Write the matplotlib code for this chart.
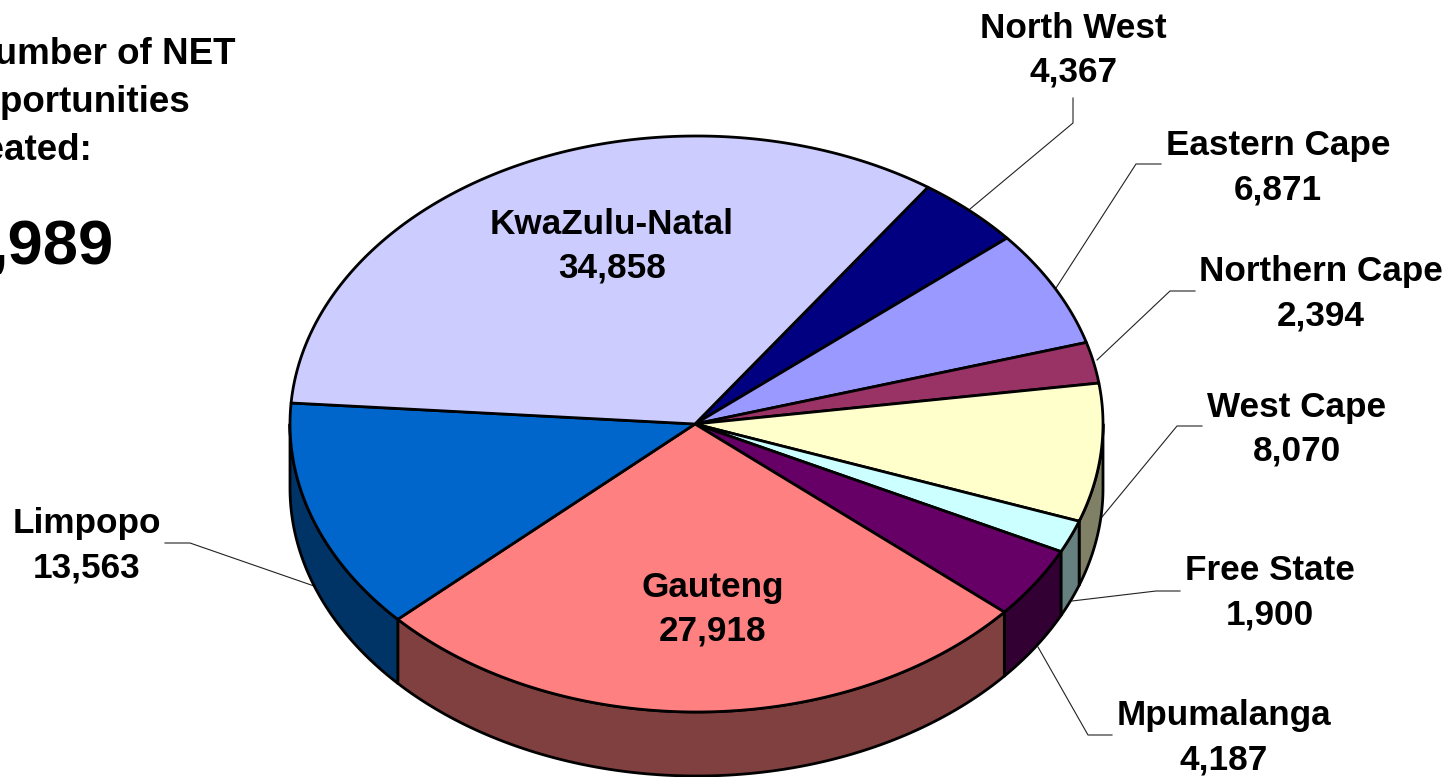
import numpy as np
import matplotlib
matplotlib.use("Agg")
import matplotlib.pyplot as plt
from matplotlib.patches import Polygon

provinces = ["North West", "Eastern Cape", "Northern Cape", "West Cape", "Free State",
             "Mpumalanga", "Gauteng", "Limpopo", "KwaZulu-Natal"]
jobs = [4367, 6871, 2394, 8070, 1900, 4187, 27918, 13563, 34858]
top_colors = ["#000080", "#9999FF", "#993366", "#FFFFCC", "#CCFFFF",
              "#660066", "#FF8080", "#0066CC", "#CCCCFF"]
side_colors = ["#000040", "#4C4C80", "#4C1933", "#808066", "#668080",
               "#330033", "#804040", "#003366", "#666680"]

# label centres, in pixels
label_x = [1073, 1278, 1321, 1297, 1270, 1224, 713, 87, 612]
label_y = [47, 165, 291, 426, 590, 735, 606, 543, 243]

# leader lines, in pixels (None = label sits on the slice)
leaders = [
    ([970, 1073, 1073], [209, 123, 98]),
    ([1056, 1136, 1161], [288, 164, 164]),
    ([1097, 1170, 1195], [360, 291, 291]),
    ([1102, 1177, 1202], [517, 426, 426]),
    ([1072, 1156, 1180], [601, 591, 591]),
    ([1038, 1088, 1112], [647, 735, 735]),
    None,
    ([314, 190, 165], [586, 543, 543]),
    None,
]

cx, cy = 696.5, 424
rx, ry = 406.5, 288
depth = 64
start = 34.7

plt.rcParams["font.family"] = ["Liberation Sans", "DejaVu Sans"]

fig = plt.figure(figsize=(14.51, 7.77), dpi=100)
ax = fig.add_axes([0, 0, 1, 1])
ax.set_xlim(0, 1451)
ax.set_ylim(777, 0)
ax.axis("off")


def arc(a0, a1, drop=0):
    a = np.radians(np.linspace(a0, a1, 200))
    return np.column_stack([cx + rx * np.sin(a), cy + drop - ry * np.cos(a)])


edges = start + np.concatenate([[0], np.cumsum(jobs)]) / sum(jobs) * 360

# side wall first, only the front half shows
for i in range(len(jobs)):
    a0 = max(edges[i], 90)
    a1 = min(edges[i + 1], 270)
    if a0 >= a1:
        continue
    pts = np.vstack([arc(a0, a1), arc(a0, a1, depth)[::-1]])
    ax.add_patch(Polygon(pts, closed=True, facecolor=side_colors[i], edgecolor="black",
                         linewidth=2.0, joinstyle="round", zorder=2))

for i in range(len(jobs)):
    pts = np.vstack([[cx - 1.5, cy], arc(edges[i], edges[i + 1])])
    ax.add_patch(Polygon(pts, closed=True, facecolor=top_colors[i], edgecolor="black",
                         linewidth=2.0, joinstyle="round", zorder=3))

for line in leaders:
    if line is not None:
        ax.plot(line[0], line[1], color="#222222", linewidth=0.8, zorder=1)

for name, v, x, y in zip(provinces, jobs, label_x, label_y):
    ax.text(x, y - 19, name, ha="center", va="center", fontsize=25.3, fontweight="bold", zorder=5)
    ax.text(x, y + 25, f"{v:,}", ha="center", va="center", fontsize=25.3, fontweight="bold", zorder=5)

# headline runs off the left edge in the original
ax.text(235, 55, "Number of NET", ha="right", va="center", fontsize=26.5, fontweight="bold")
ax.text(190, 103, "opportunities", ha="right", va="center", fontsize=26.5, fontweight="bold")
ax.text(92, 151, "created:", ha="right", va="center", fontsize=26.5, fontweight="bold")
ax.text(114, 248, ",989", ha="right", va="center", fontsize=45.5, fontweight="bold")

fig.savefig("out.png", dpi=100)
